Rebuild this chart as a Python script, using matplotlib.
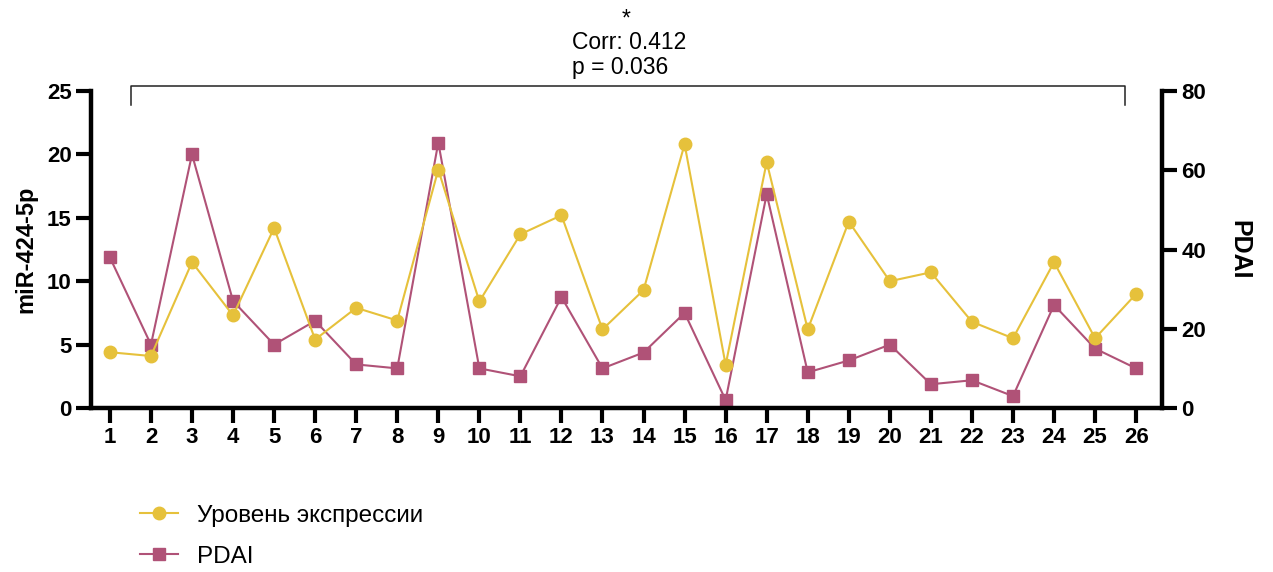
import matplotlib
matplotlib.use("Agg")
import matplotlib.pyplot as plt
import numpy as np

plt.rcParams["font.family"] = ["Liberation Sans", "DejaVu Sans"]

patients = list(range(1, 27))
mir_expr = [4.4, 4.1, 11.5, 7.3, 14.2, 5.4, 7.9, 6.9, 18.8, 8.4, 13.7, 15.2, 6.2,
            9.3, 20.8, 3.4, 19.4, 6.2, 14.7, 10.0, 10.7, 6.8, 5.5, 11.5, 5.5, 9.0]
pdai = [38, 16, 64, 27, 16, 22, 11, 10, 67, 10, 8, 28, 10,
        14, 24, 2, 54, 9, 12, 16, 6, 7, 3, 26, 15, 10]
corr_text = "Corr: 0.412\np = 0.036"

yellow = "#E6C13B"
pink = "#B05277"

fig = plt.figure(figsize=(12.73, 5.72), dpi=100)
ax = fig.add_axes([0.0715, 0.2867, 0.8413, 0.5542])
ax2 = ax.twinx()

# yellow series drawn above the pink one
ax.set_zorder(ax2.get_zorder() + 1)
ax.patch.set_visible(False)

ax.plot(patients, mir_expr, color=yellow, lw=1.5, marker="o", ms=9,
        label="Уровень экспрессии")
ax2.plot(patients, pdai, color=pink, lw=1.5, marker="s", ms=9, label="PDAI")

ax.set_xlim(0.54, 26.63)
ax.set_ylim(0, 25)
ax2.set_ylim(0, 80)
ax.set_xticks(patients)
ax.set_yticks([0, 5, 10, 15, 20, 25])
ax2.set_yticks([0, 20, 40, 60, 80])

for a in (ax, ax2):
    for s in a.spines.values():
        s.set_linewidth(3.2)
    a.spines["top"].set_visible(False)
    a.tick_params(width=3, length=11, labelsize=16, pad=3)
    for lab in a.get_xticklabels() + a.get_yticklabels():
        lab.set_fontweight("bold")
ax.spines["right"].set_visible(False)
ax2.spines["left"].set_visible(False)
ax2.spines["bottom"].set_visible(False)

ax.set_ylabel("miR-424-5p", fontsize=17, fontweight="bold", labelpad=7)
ax2.set_ylabel("PDAI", fontsize=18, fontweight="bold", rotation=-90,
               va="bottom", labelpad=15)

# significance bracket over the whole series
bx0, bx1, by, bdrop = 1.51, 25.73, 25.4, 1.5
ax.plot([bx0, bx0, bx1, bx1], [by - bdrop, by, by, by - bdrop], color="#222222",
        lw=1.1, clip_on=False)
ax.text(12.26, 26.34, corr_text, ha="left", va="baseline",
        fontsize=16.5, linespacing=1.1)
ax.text(13.58, 30.15, "*", ha="center", va="baseline", fontsize=16.5)

h1, l1 = ax.get_legend_handles_labels()
h2, l2 = ax2.get_legend_handles_labels()
fig.legend(h1 + h2, l1 + l2, loc="upper left", bbox_to_anchor=(0.110, 0.118),
           frameon=False, fontsize=17.5, handlelength=1.55, handletextpad=0.8,
           labelspacing=0.8, borderpad=0, borderaxespad=0)

fig.savefig("out.png", dpi=100)
